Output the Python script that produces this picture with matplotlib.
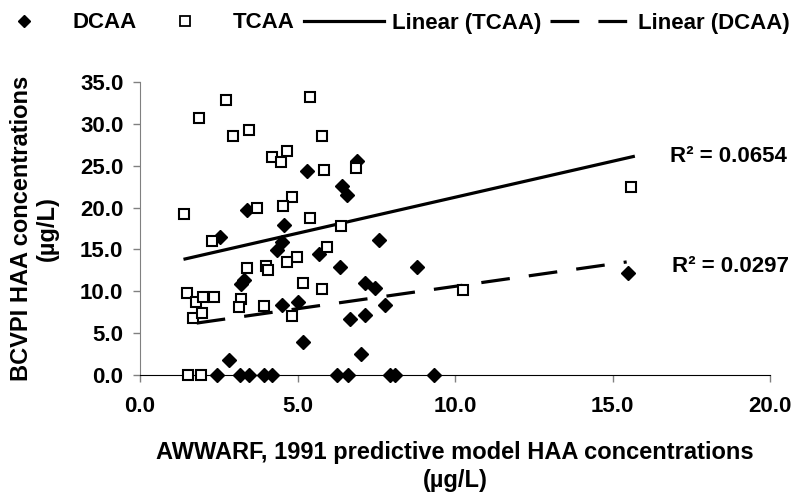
import numpy as np
import matplotlib
matplotlib.use("Agg")
from matplotlib import pyplot as plt
from matplotlib.lines import Line2D

# values
dcaa_x = [3.41, 5.29, 6.88, 6.42, 6.56, 4.57, 2.54, 3.30, 3.22,
          2.45, 3.17, 3.46, 3.94, 4.18, 6.26, 6.61, 7.94, 8.10, 9.33,
          2.84, 7.60, 4.50, 4.34, 5.68, 6.35, 7.14, 7.46, 7.78, 4.50,
          5.03, 6.67, 7.14, 5.16, 7.02, 15.50, 8.80]
dcaa_y = [19.7, 24.4, 25.6, 22.6, 21.5, 17.9, 16.5, 11.4, 10.9,
          0.0, 0.0, 0.0, 0.0, 0.0, 0.0, 0.0, 0.0, 0.0, 0.0,
          1.8, 16.1, 15.9, 14.9, 14.4, 12.9, 10.95, 10.4, 8.4, 8.4,
          8.76, 6.7, 7.2, 3.9, 2.5, 12.15, 12.9]

tcaa_x = [2.73, 1.88, 2.94, 3.47, 4.20, 4.66, 4.47, 1.41, 3.70, 5.40,
          5.79, 5.85, 6.85, 4.81, 4.53, 5.40, 6.37, 2.27, 3.41, 4.00,
          4.07, 1.48, 1.78, 2.01, 2.35, 1.67, 1.96, 3.20, 3.14, 3.94,
          1.53, 1.94, 5.93, 4.99, 4.66, 5.19, 5.79, 4.84, 15.60, 10.24]
tcaa_y = [32.9, 30.7, 28.5, 29.3, 26.0, 26.8, 25.5, 19.2, 20.0, 33.2,
          28.5, 24.5, 24.7, 21.3, 20.2, 18.8, 17.8, 16.0, 12.8, 13.0,
          12.6, 9.8, 8.76, 9.3, 9.3, 6.85, 7.37, 9.1, 8.1, 8.3,
          0.0, 0.0, 15.3, 14.1, 13.5, 11.0, 10.3, 7.05, 22.5, 10.1]

# trendlines (slope, intercept, x range) as drawn in the reference
tcaa_fit = (0.86, 12.63)
tcaa_range = [1.43, 15.66]
dcaa_fit = (0.535, 5.24)
dcaa_range = [1.80, 15.45]

r2_tcaa = "R² = 0.0654"
r2_dcaa = "R² = 0.0297"

plt.rcParams['font.family'] = ['Liberation Sans', 'DejaVu Sans']
plt.rcParams['font.weight'] = 'bold'
plt.rcParams['font.size'] = 16

fig = plt.figure(figsize=(8.06, 5.0), dpi=100)
ax = fig.add_axes([140/806, 1-375/500, 630/806, 293/500])

ax.plot(dcaa_x, dcaa_y, 'D', color='black', ms=7, clip_on=False, zorder=3)
ax.plot(tcaa_x, tcaa_y, 's', mfc='white', mec='black', mew=1.5, ms=7.5,
        clip_on=False, zorder=3)

dash = (9, 6)
xs = np.array(tcaa_range)
ax.plot(xs, tcaa_fit[0]*xs + tcaa_fit[1], '-', color='black', lw=2.3, zorder=2)
xs = np.array(dcaa_range)
ax.plot(xs, dcaa_fit[0]*xs + dcaa_fit[1], color='black', lw=2.3,
        dashes=dash, zorder=2)

ax.set_xlim(0, 20)
ax.set_ylim(0, 35)
ax.set_xticks(np.arange(0, 20.1, 5))
ax.set_yticks(np.arange(0, 35.1, 5))
ax.set_xticklabels([f"{v:.1f}" for v in np.arange(0, 20.1, 5)])
ax.set_yticklabels([f"{v:.1f}" for v in np.arange(0, 35.1, 5)])

for s in ['top', 'right']:
    ax.spines[s].set_visible(False)
ax.spines['left'].set_color('#808080')
ax.spines['bottom'].set_color('black')
ax.tick_params(axis='both', colors='#808080', length=5, width=1,
               labelcolor='black', labelsize=16)
ax.tick_params(axis='x', pad=10)
ax.tick_params(axis='y', pad=7)

ax.set_xlabel("AWWARF, 1991 predictive model HAA concentrations\n(µg/L)",
              fontweight='bold', fontsize=17, linespacing=1.3)
ax.xaxis.set_label_coords(0.5, -0.225)
ax.set_ylabel("BCVPI HAA concentrations\n(µg/L)", fontweight='bold',
              fontsize=17, linespacing=1.2)
ax.yaxis.set_label_coords(-0.128, 0.5)

ax.text(16.83, 26.1, r2_tcaa, fontweight='bold', fontsize=16, va='center')
ax.text(16.9, 13.0, r2_dcaa, fontweight='bold', fontsize=16, va='center')

handles = [
    Line2D([], [], ls='none', marker='D', color='black', ms=6),
    Line2D([], [], ls='none', marker='s', mfc='white', mec='black', mew=1.3, ms=6.5),
    Line2D([], [], color='black', lw=2.3),
    Line2D([], [], color='black', lw=2.3, dashes=dash),
]
labels = ["DCAA", "TCAA", "Linear (TCAA)", "Linear (DCAA)"]
fig.legend(handles, labels, loc='center left', bbox_to_anchor=(-16/806, 1-23/500),
           ncol=4, frameon=False, handlelength=3.6, columnspacing=0.4,
           handletextpad=0.36, borderpad=0, borderaxespad=0,
           prop={'weight': 'bold', 'size': 16})

fig.savefig("out.png", dpi=100)
